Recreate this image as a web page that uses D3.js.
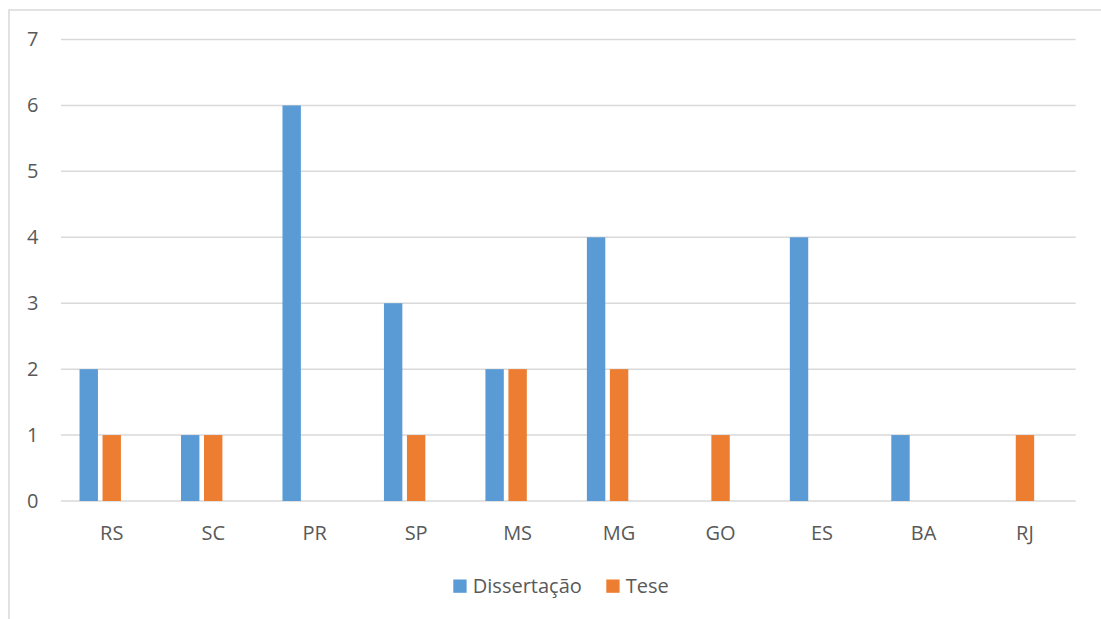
<!DOCTYPE html>
<html>
<head>
<meta charset="utf-8">
<script src="https://cdn.jsdelivr.net/npm/d3@7"></script>
<style>
  html, body { margin: 0; padding: 0; background: #fff; }
  svg { display: block; font-family: "Open Sans", "Noto Sans", sans-serif; }
</style>
</head>
<body>
<svg id="chart" width="1101" height="619"></svg>
<script>
// Trabalhos por estado
const categories = ["RS", "SC", "PR", "SP", "MS", "MG", "GO", "ES", "BA", "RJ"];
const seriesNames = ["Dissertação", "Tese"];
const dissertacao = [2, 1, 6, 3, 2, 4, 0, 4, 1, 0];
const tese = [1, 1, 0, 1, 2, 2, 1, 0, 0, 1];
const yTicks = [0, 1, 2, 3, 4, 5, 6, 7];
const colors = ["#5B9BD5", "#ED7D31"];

const svg = d3.select("#chart");
const margin = { left: 61, right: 1101 - 1075.7, top: 39.5, bottom: 619 - 501 };
const W = 1101, H = 619;
const FONT = 20;

// outer frame
svg.append("rect")
  .attr("x", 9).attr("y", 10)
  .attr("width", W + 20).attr("height", H + 20)
  .attr("fill", "none").attr("stroke", "#D9D9D9").attr("stroke-width", 1.5);

const x0 = d3.scaleBand()
  .domain(categories)
  .range([margin.left, W - margin.right])
  .padding(0);

// three slots per category; the two series use the first two
const x1 = d3.scaleBand()
  .domain([0, 1, 2])
  .range([0, x0.bandwidth()])
  .paddingInner(0.2)
  .paddingOuter(0.806);

const y = d3.scaleLinear()
  .domain([0, 7])
  .range([H - margin.bottom, margin.top]);

// gridlines
svg.append("g")
  .selectAll("line")
  .data(yTicks)
  .join("line")
  .attr("x1", margin.left).attr("x2", W - margin.right)
  .attr("y1", d => y(d)).attr("y2", d => y(d))
  .attr("stroke", "#D9D9D9").attr("stroke-width", 1.5);

// y labels
const yAxis = d3.axisLeft(y).tickValues(yTicks).tickSize(0).tickPadding(0).tickFormat(d3.format("d"));
const yg = svg.append("g").attr("transform", `translate(38.5,0)`).call(yAxis);
yg.select(".domain").remove();
yg.selectAll("text")
  .attr("fill", "#595959")
  .attr("font-size", FONT)
  .attr("font-family", "Open Sans, Noto Sans, sans-serif")
  .attr("text-anchor", "end");

// x labels
const xAxis = d3.axisBottom(x0).tickSize(0).tickPadding(0);
const xg = svg.append("g").attr("transform", `translate(0,${y(0)})`).call(xAxis);
xg.select(".domain").remove();
xg.selectAll("text")
  .attr("fill", "#595959")
  .attr("font-size", FONT)
  .attr("font-family", "Open Sans, Noto Sans, sans-serif")
  .attr("dy", null)
  .attr("y", 39);

// bars
const series = [dissertacao, tese];
const groups = svg.append("g")
  .selectAll("g")
  .data(categories)
  .join("g")
  .attr("transform", d => `translate(${x0(d)},0)`);

groups.selectAll("rect")
  .data((c, i) => series.map((vals, s) => ({ s, v: vals[i] })).filter(d => d.v > 0))
  .join("rect")
  .attr("x", d => x1(d.s))
  .attr("width", x1.bandwidth())
  .attr("y", d => y(d.v))
  .attr("height", d => y(0) - y(d.v))
  .attr("fill", d => colors[d.s]);

// legend
const legendItems = [
  { name: seriesNames[0], color: colors[0], x: 453.3 },
  { name: seriesNames[1], color: colors[1], x: 606.3 }
];
const lg = svg.append("g");
legendItems.forEach(item => {
  lg.append("rect")
    .attr("x", item.x).attr("y", 579.5)
    .attr("width", 13.3).attr("height", 13.3)
    .attr("fill", item.color);
  lg.append("text")
    .attr("x", item.x + 19.5).attr("y", 593)
    .attr("fill", "#595959")
    .attr("font-size", FONT)
    .text(item.name);
});
</script>
</body>
</html>
